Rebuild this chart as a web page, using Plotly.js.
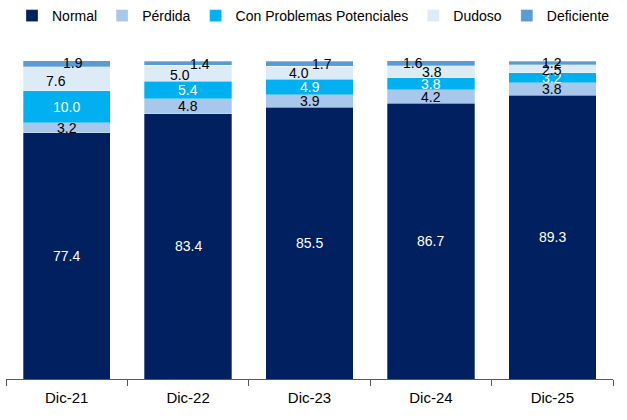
<!DOCTYPE html>
<html><head><meta charset="utf-8">
<script src="https://cdn.plot.ly/plotly-3.0.1.min.js"></script>
<style>body{margin:0;background:#fff}#c{width:627px;height:420px}</style>
</head><body><div id="c"></div>
<script>
const categories = ["Dic-21","Dic-22","Dic-23","Dic-24","Dic-25"];
const normal = [77.4, 83.4, 85.5, 86.7, 89.3];
const perdida = [3.2, 4.8, 3.9, 4.2, 3.8];
const problemas = [10.0, 5.4, 4.9, 3.8, 3.2];
const dudoso = [7.6, 5.0, 4.0, 3.8, 2.5];
const deficiente = [1.9, 1.4, 1.7, 1.6, 1.2];

const font = "Liberation Sans, Arial, sans-serif";
const series = [
  {name:"Normal", vals:normal, color:"#002060", txt:"#ffffff", dx:[0,0,0,0,0], dy:[0,0,0,0,0]},
  {name:"Pérdida", vals:perdida, color:"#A7C8EA", txt:"#000000", dx:[0,0,0,0,0], dy:[0,0,0,0,0]},
  {name:"Con Problemas Potenciales", vals:problemas, color:"#00B0F0", txt:"#ffffff", dx:[0,0,0,0,0], dy:[0,0,0,0,0]},
  {name:"Dudoso", vals:dudoso, color:"#DDEBF7", txt:"#000000", dx:[-11,-8,-11,1,0], dy:[-2,-2,0,0,-1]},
  {name:"Deficiente", vals:deficiente, color:"#5B9BD5", txt:"#000000", dx:[6,12,12,-18,0], dy:[1,-1,0,0,0]}
];
const data = series.map(s=>({type:'bar', name:s.name, x:categories, y:s.vals,
  marker:{color:s.color, line:{color:'rgba(255,255,255,0.6)', width:0.5}}, hoverinfo:'skip'}));

const annotations = [];
const base = categories.map(()=>0);
series.forEach(s=>{
  s.vals.forEach((v,i)=>{
    annotations.push({x:categories[i], y:base[i]+v/2, xref:'x', yref:'y', text:v.toFixed(1), showarrow:false,
      font:{color:s.txt, size:14, family:font}, xshift:s.dx[i], yshift:s.dy[i]});
    base[i]+=v;
  });
});

const layout = {
  width:627, height:420, barmode:'stack', bargap:0.28,
  margin:{l:6, r:14, t:61, b:41},
  paper_bgcolor:'#fff', plot_bgcolor:'#fff',
  font:{family:font, size:14, color:'#000'},
  showlegend:true, annotations:annotations,
  legend:{orientation:'h', x:0.5, xref:'container', xanchor:'center', y:1, yref:'container', yanchor:'top', traceorder:'normal',
    font:{size:14, family:font}, itemwidth:30},
  xaxis:{showline:true, linecolor:'#595959', linewidth:1, ticks:'outside', ticklen:6, tickcolor:'#595959',
    tickson:'boundaries', tickfont:{size:15, family:font}, ticklabelstandoff:5, fixedrange:true},
  yaxis:{range:[0,100], visible:false, showgrid:false, zeroline:false, fixedrange:true}
};
Plotly.newPlot('c', data, layout, {displayModeBar:false, staticPlot:true});
</script></body></html>
